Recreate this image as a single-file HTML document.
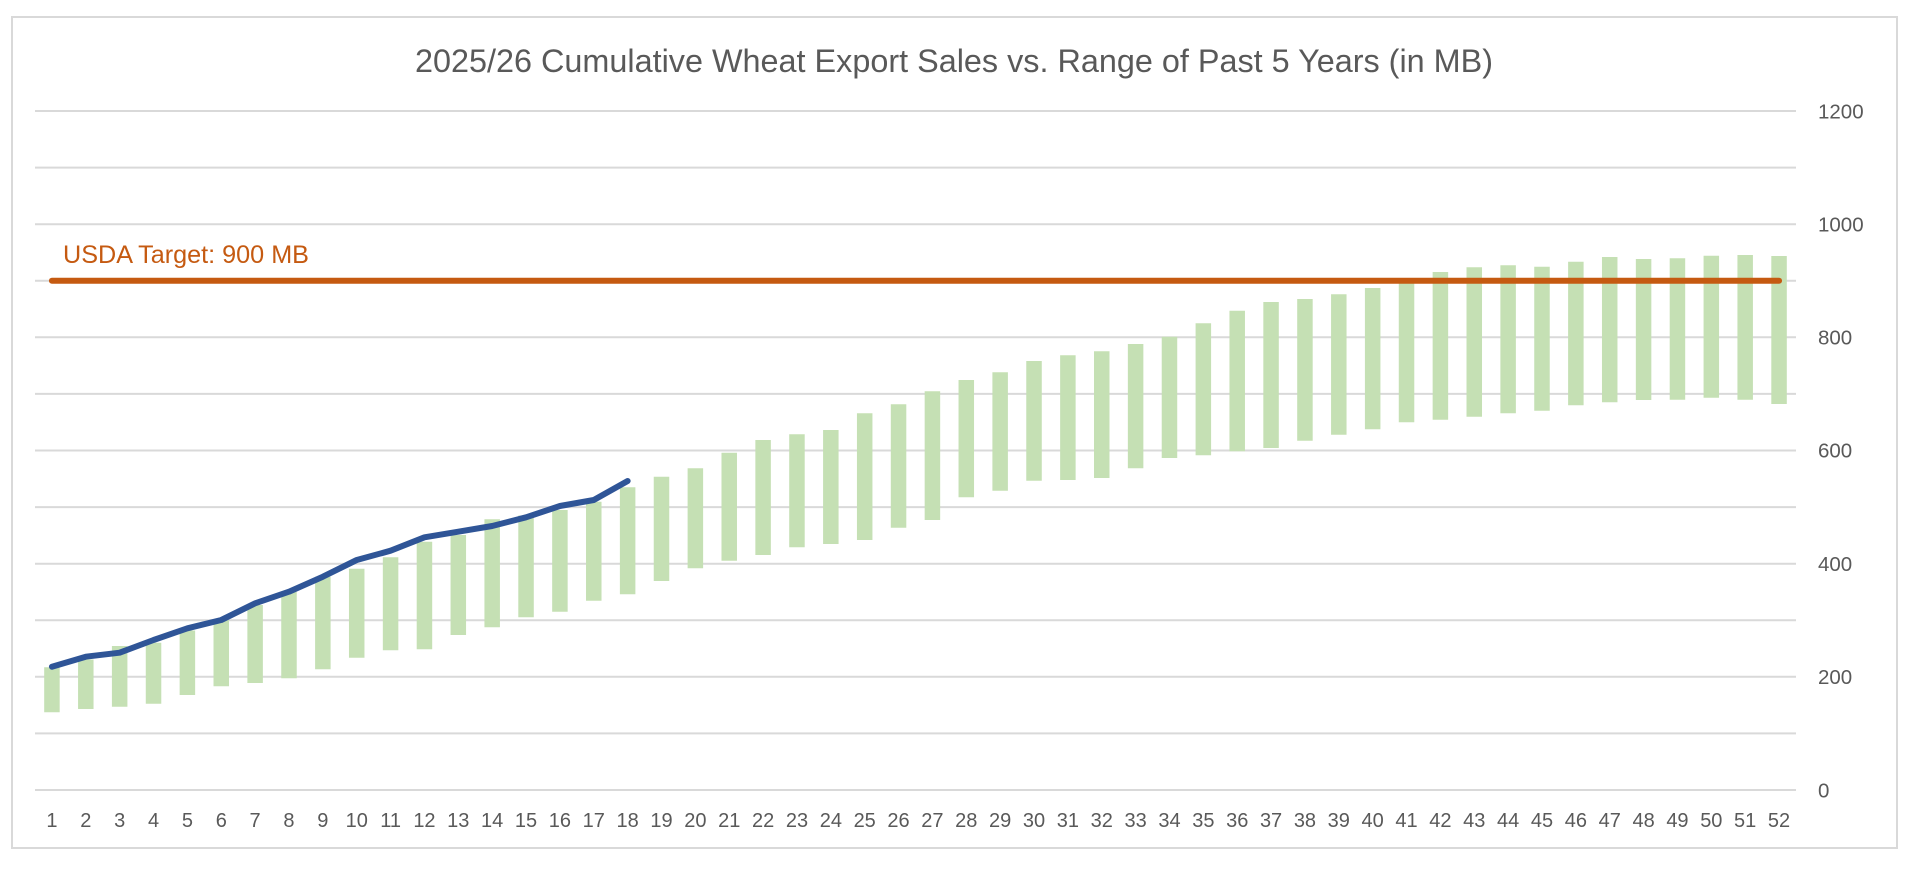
<!DOCTYPE html>
<html>
<head>
<meta charset="utf-8">
<style>
html,body{margin:0;padding:0;background:#fff;}
body{width:1920px;height:870px;overflow:hidden;}
svg{display:block;}
text{font-family:"Liberation Sans",Arial,sans-serif;}
</style>
</head>
<body>
<svg width="1920" height="870" viewBox="0 0 1920 870" xmlns="http://www.w3.org/2000/svg">
<rect x="0" y="0" width="1920" height="870" fill="#fff"/>
<rect x="12" y="17" width="1885" height="831" fill="none" stroke="#d9d9d9" stroke-width="2"/>
<text x="415" y="72" font-size="32.3" fill="#595959" textLength="1078" lengthAdjust="spacingAndGlyphs">2025/26 Cumulative Wheat Export Sales vs. Range of Past 5 Years (in MB)</text>
<path stroke="#d9d9d9" stroke-width="2" fill="none" d="M35 111H1796M35 167.6H1796M35 224.2H1796M35 280.8H1796M35 337.3H1796M35 393.9H1796M35 450.5H1796M35 507.1H1796M35 563.7H1796M35 620.3H1796M35 676.8H1796M35 733.4H1796M35 790H1796"/>
<g font-size="20.5" fill="#595959"><text x="1818" y="118.5">1200</text><text x="1818" y="231.5">1000</text><text x="1818" y="344.5">800</text><text x="1818" y="457.5">600</text><text x="1818" y="571">400</text><text x="1818" y="684">200</text><text x="1818" y="797.5">0</text></g>
<path fill="#c5e0b4" d="M44.18 667.3h15.5V712.3h-15.5zM78.05 659.5h15.5V709h-15.5zM111.91 646h15.5V706.7h-15.5zM145.78 642.7h15.5V703.7h-15.5zM179.64 630.5h15.5V695h-15.5zM213.51 620h15.5V686.3h-15.5zM247.37 605h15.5V683h-15.5zM281.24 591.7h15.5V678.3h-15.5zM315.1 576.7h15.5V669.3h-15.5zM348.97 568.7h15.5V657.7h-15.5zM382.83 557.3h15.5V650.3h-15.5zM416.7 541.7h15.5V649.3h-15.5zM450.56 535h15.5V635h-15.5z
M484.43 519.3h15.5V627.3h-15.5zM518.29 515.5h15.5V617.3h-15.5zM552.16 510h15.5V611.7h-15.5zM586.02 501.7h15.5V600.7h-15.5zM619.89 487.3h15.5V594.3h-15.5zM653.75 476.7h15.5V581h-15.5zM687.62 468.3h15.5V568.3h-15.5zM721.48 452.7h15.5V560.7h-15.5zM755.35 440h15.5V555h-15.5zM789.21 434.3h15.5V547.3h-15.5zM823.08 430h15.5V544h-15.5zM856.94 413.3h15.5V540h-15.5zM890.81 404.3h15.5V527.7h-15.5z
M924.67 391.3h15.5V520h-15.5zM958.54 380h15.5V497.3h-15.5zM992.4 372.3h15.5V490.7h-15.5zM1026.27 361h15.5V480.7h-15.5zM1060.13 355.3h15.5V480h-15.5zM1094 351.3h15.5V478h-15.5zM1127.86 344h15.5V468.3h-15.5zM1161.73 336.7h15.5V458h-15.5zM1195.59 323.3h15.5V455.3h-15.5zM1229.46 310.7h15.5V451.3h-15.5zM1263.32 302h15.5V448h-15.5zM1297.19 299h15.5V440.7h-15.5zM1331.05 294.3h15.5V434.7h-15.5z
M1364.92 288h15.5V429.3h-15.5zM1398.78 281.5h15.5V422.3h-15.5zM1432.65 272h15.5V419.7h-15.5zM1466.51 267.3h15.5V416.7h-15.5zM1500.38 265.3h15.5V413.3h-15.5zM1534.24 266.7h15.5V410.7h-15.5zM1568.11 261.7h15.5V405.3h-15.5zM1601.97 257h15.5V402.3h-15.5zM1635.84 259h15.5V400h-15.5zM1669.7 258.3h15.5V399.7h-15.5zM1703.57 255.7h15.5V397.7h-15.5zM1737.43 255h15.5V399.7h-15.5zM1771.3 256h15.5V404h-15.5z"/>
<line x1="51.93" y1="280.8" x2="1779.05" y2="280.8" stroke="#c55a11" stroke-width="6" stroke-linecap="round"/>
<text x="63" y="263" font-size="24.7" fill="#c55a11" textLength="246" lengthAdjust="spacingAndGlyphs">USDA Target: 900 MB</text>
<polyline fill="none" stroke="#2f5597" stroke-width="6" stroke-linecap="round" stroke-linejoin="round" points="51.93,666.7 85.8,656.7 119.66,652.7 153.53,640 187.39,628.3 221.26,620 255.12,603.3 288.99,591.7 322.85,576.7 356.72,560 390.58,550.7 424.45,537.3 458.31,531.7 492.18,526 526.04,517.3 559.91,506 593.77,500 627.64,481"/>
<g font-size="20" fill="#595959" text-anchor="middle">
<text x="51.93" y="827">1</text><text x="85.8" y="827">2</text><text x="119.66" y="827">3</text><text x="153.53" y="827">4</text><text x="187.39" y="827">5</text><text x="221.26" y="827">6</text><text x="255.12" y="827">7</text><text x="288.99" y="827">8</text><text x="322.85" y="827">9</text><text x="356.72" y="827">10</text><text x="390.58" y="827">11</text><text x="424.45" y="827">12</text><text x="458.31" y="827">13</text>
<text x="492.18" y="827">14</text><text x="526.04" y="827">15</text><text x="559.91" y="827">16</text><text x="593.77" y="827">17</text><text x="627.64" y="827">18</text><text x="661.5" y="827">19</text><text x="695.37" y="827">20</text><text x="729.23" y="827">21</text><text x="763.1" y="827">22</text><text x="796.96" y="827">23</text><text x="830.83" y="827">24</text><text x="864.69" y="827">25</text><text x="898.56" y="827">26</text>
<text x="932.42" y="827">27</text><text x="966.29" y="827">28</text><text x="1000.15" y="827">29</text><text x="1034.02" y="827">30</text><text x="1067.88" y="827">31</text><text x="1101.75" y="827">32</text><text x="1135.61" y="827">33</text><text x="1169.48" y="827">34</text><text x="1203.34" y="827">35</text><text x="1237.21" y="827">36</text><text x="1271.07" y="827">37</text><text x="1304.94" y="827">38</text><text x="1338.8" y="827">39</text>
<text x="1372.67" y="827">40</text><text x="1406.53" y="827">41</text><text x="1440.4" y="827">42</text><text x="1474.26" y="827">43</text><text x="1508.13" y="827">44</text><text x="1541.99" y="827">45</text><text x="1575.86" y="827">46</text><text x="1609.72" y="827">47</text><text x="1643.59" y="827">48</text><text x="1677.45" y="827">49</text><text x="1711.32" y="827">50</text><text x="1745.18" y="827">51</text><text x="1779.05" y="827">52</text>
</g>
</svg>
</body>
</html>
